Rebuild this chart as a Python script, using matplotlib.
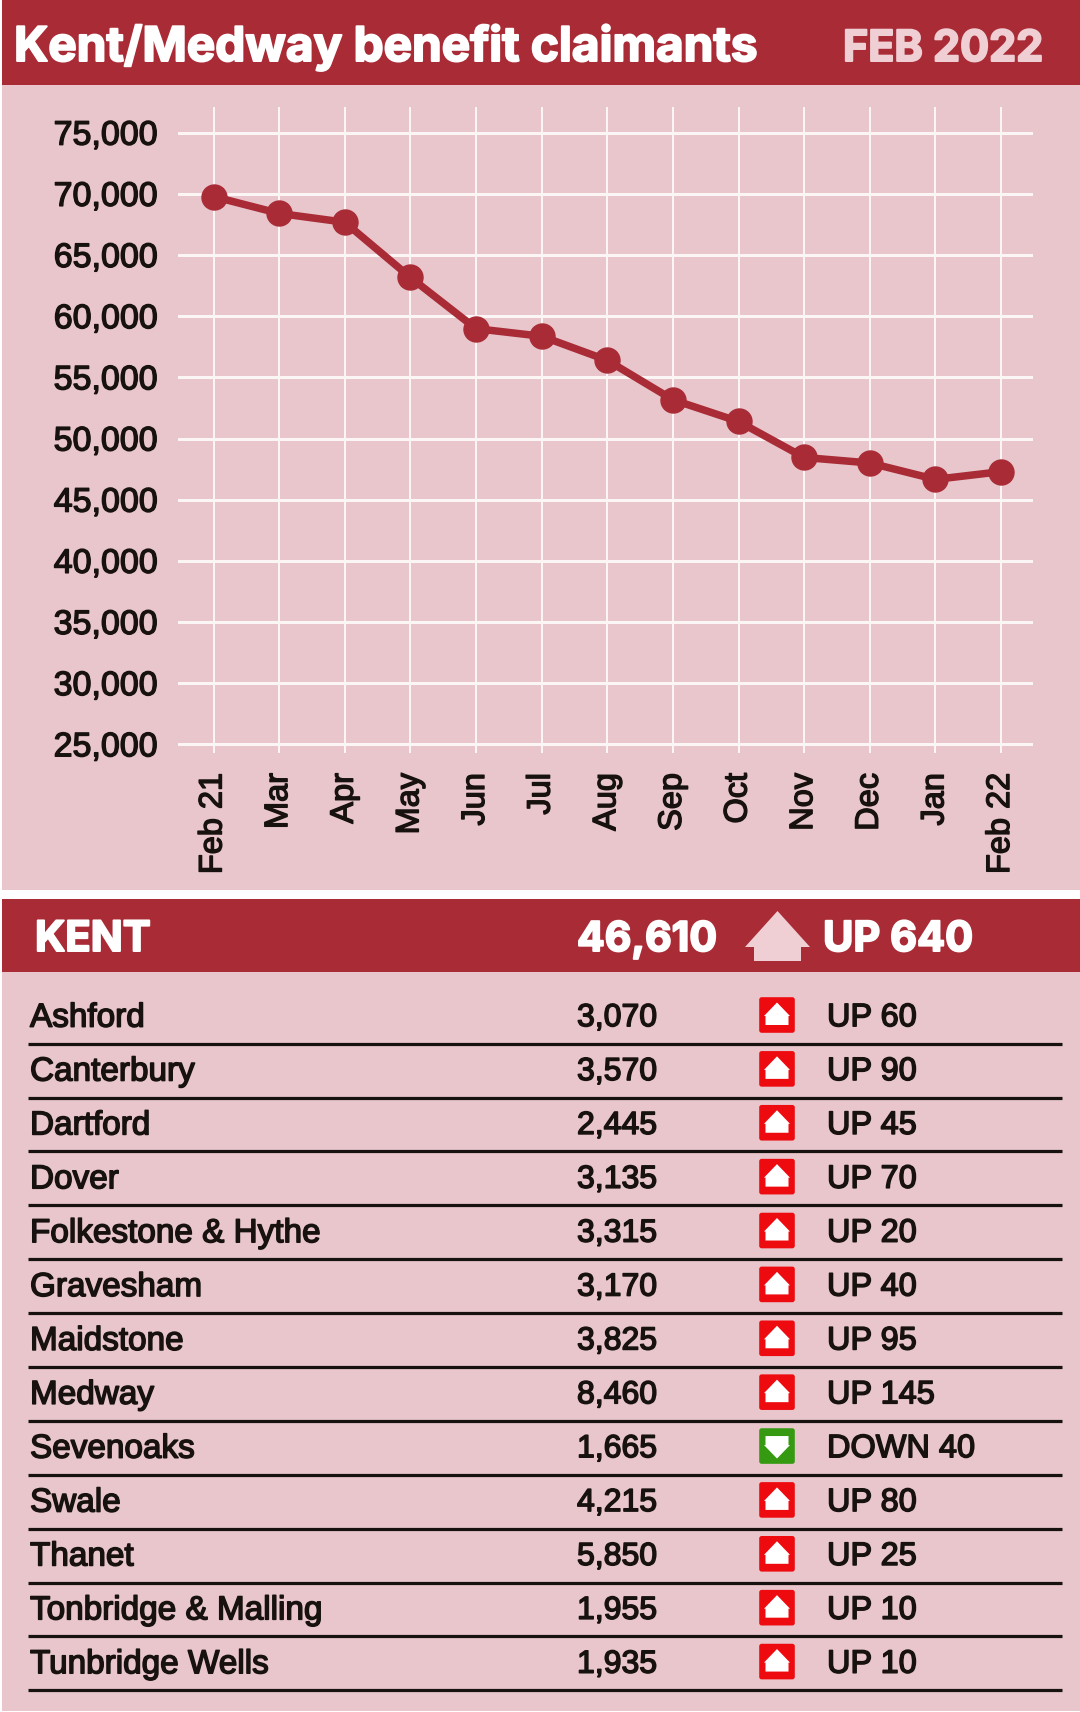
import matplotlib
matplotlib.use("Agg")
import matplotlib.pyplot as plt
import matplotlib.patheffects as pe
from matplotlib.patches import Rectangle, FancyBboxPatch, Polygon

months = ["Feb 21", "Mar", "Apr", "May", "Jun", "Jul", "Aug", "Sep", "Oct", "Nov", "Dec", "Jan", "Feb 22"]
claimants = [69780, 68400, 67680, 63170, 58980, 58360, 56390, 53170, 51390, 48450, 48000, 46660, 47290]
y_ticks = [25000, 30000, 35000, 40000, 45000, 50000, 55000, 60000, 65000, 70000, 75000]

districts = ["Ashford", "Canterbury", "Dartford", "Dover", "Folkestone & Hythe", "Gravesham", "Maidstone",
             "Medway", "Sevenoaks", "Swale", "Thanet", "Tonbridge & Malling", "Tunbridge Wells"]
totals = ["3,070", "3,570", "2,445", "3,135", "3,315", "3,170", "3,825", "8,460", "1,665", "4,215", "5,850", "1,955", "1,935"]
directions = ["UP"] * 8 + ["DOWN"] + ["UP"] * 4
changes = [60, 90, 45, 70, 20, 40, 95, 145, 40, 80, 25, 10, 10]

RED = "#A92B36"
PINK = "#E8C6CC"
LIGHT = "#EFCFD4"
INK = "#17120F"
FONT = "Liberation Sans"
HEAD = "Inter"
W, H = 1080, 1712

fig = plt.figure(figsize=(W / 100, H / 100), dpi=100, facecolor="white")

bg = fig.add_axes([0, 0, 1, 1])
bg.set_xlim(0, W)
bg.set_ylim(H, 0)
bg.axis("off")

def px(v):
    return v * 0.72

def label(x, y, s, size, color=INK, stroke=1.5, weight="normal", ha="left", family=FONT):
    t = bg.text(x, y, s, fontsize=px(size), color=color, family=family, weight=weight, ha=ha,
                va="center_baseline", zorder=5)
    if stroke:
        t.set_path_effects([pe.withStroke(linewidth=px(stroke), foreground=color)])
    return t

bg.add_patch(Rectangle((2, 0), W - 2, 85, fc=RED, ec="none"))
bg.add_patch(Rectangle((2, 85), W - 2, 805, fc=PINK, ec="none"))
bg.add_patch(Rectangle((2, 899), W - 2, 73, fc=RED, ec="none"))
bg.add_patch(Rectangle((2, 972), W - 2, 739, fc=PINK, ec="none"))

label(14, 43, "Kent/Medway benefit claimants", 47.7, "white", stroke=2.0, weight="bold", family=HEAD)
label(1043, 45, "FEB 2022", 43, LIGHT, stroke=2.0, weight="bold", ha="right", family=HEAD)
label(35, 936, "KENT", 42, "white", stroke=2.0, weight="bold", family=HEAD)
label(577, 936, "46,610", 41, "white", stroke=2.0, weight="bold", family=HEAD)
label(823, 936, "UP 640", 41.5, "white", stroke=2.0, weight="bold", family=HEAD)
bg.add_patch(Polygon([(777.5, 911), (810, 947), (801, 947), (801, 961), (754, 961), (754, 947), (745, 947)],
                     closed=True, fc=LIGHT, ec="none", zorder=5))

row0 = 1043.7
step = 53.88
for i, (name, total, d, c) in enumerate(zip(districts, totals, directions, changes)):
    line_y = row0 + i * step
    cy = line_y - 29
    label(30, cy, name, 33.3)
    label(577, cy, total, 32)
    label(827, cy, f"{d} {c}", 32.5)
    bg.plot([27.5, 1061.5], [line_y, line_y], color=INK, lw=px(3.2), solid_capstyle="butt", zorder=4)
    up = d == "UP"
    bg.add_patch(FancyBboxPatch((761, cy - 15.7), 32, 32, boxstyle="round,pad=1.8,rounding_size=2.5",
                                fc="#EE0B10" if up else "#359A12", ec="none", zorder=5))
    s = 1 if up else -1
    c0 = cy + 0.3
    bg.add_patch(Polygon([(777, c0 - s * 12.5), (790, c0 + s * 1), (788.5, c0 + s * 1), (788.5, c0 + s * 10),
                          (765.5, c0 + s * 10), (765.5, c0 + s * 1), (764, c0 + s * 1)],
                         closed=True, fc="white", ec="none", zorder=6))

# chart axes: pixel box 178..1033 x 107..753
ax = fig.add_axes([178 / W, 1 - 753 / H, (1033 - 178) / W, (753 - 107) / H])
ax.patch.set_alpha(0)
ax.set_xlim(-0.541, 12.487)
ax.set_ylim(24289, 77101)
for sp in ax.spines.values():
    sp.set_visible(False)
ax.set_axisbelow(True)
ax.xaxis.grid(True, color="#FBF5F6", lw=px(2))
ax.yaxis.grid(True, color="#FBF5F6", lw=px(3))
ax.set_xticks(range(len(months)))
ax.set_xticklabels(months, rotation=90, fontsize=px(32.5), family=FONT, color=INK, va="top", ha="center")
ax.set_yticks(y_ticks)
ax.set_yticklabels([f"{v:,}" for v in y_ticks], fontsize=px(34), family=FONT, color=INK)
ax.tick_params(axis="x", length=0, pad=px(20))
ax.tick_params(axis="y", length=0, pad=px(20))
for t in ax.get_xticklabels() + ax.get_yticklabels():
    t.set_path_effects([pe.withStroke(linewidth=px(1.4), foreground=INK)])
ax.plot(range(len(months)), claimants, color=RED, lw=px(7.5), marker="o", ms=px(25), mec=RED, mfc=RED,
        solid_joinstyle="round", clip_on=False)

fig.savefig("out.png", dpi=100, facecolor="white")
